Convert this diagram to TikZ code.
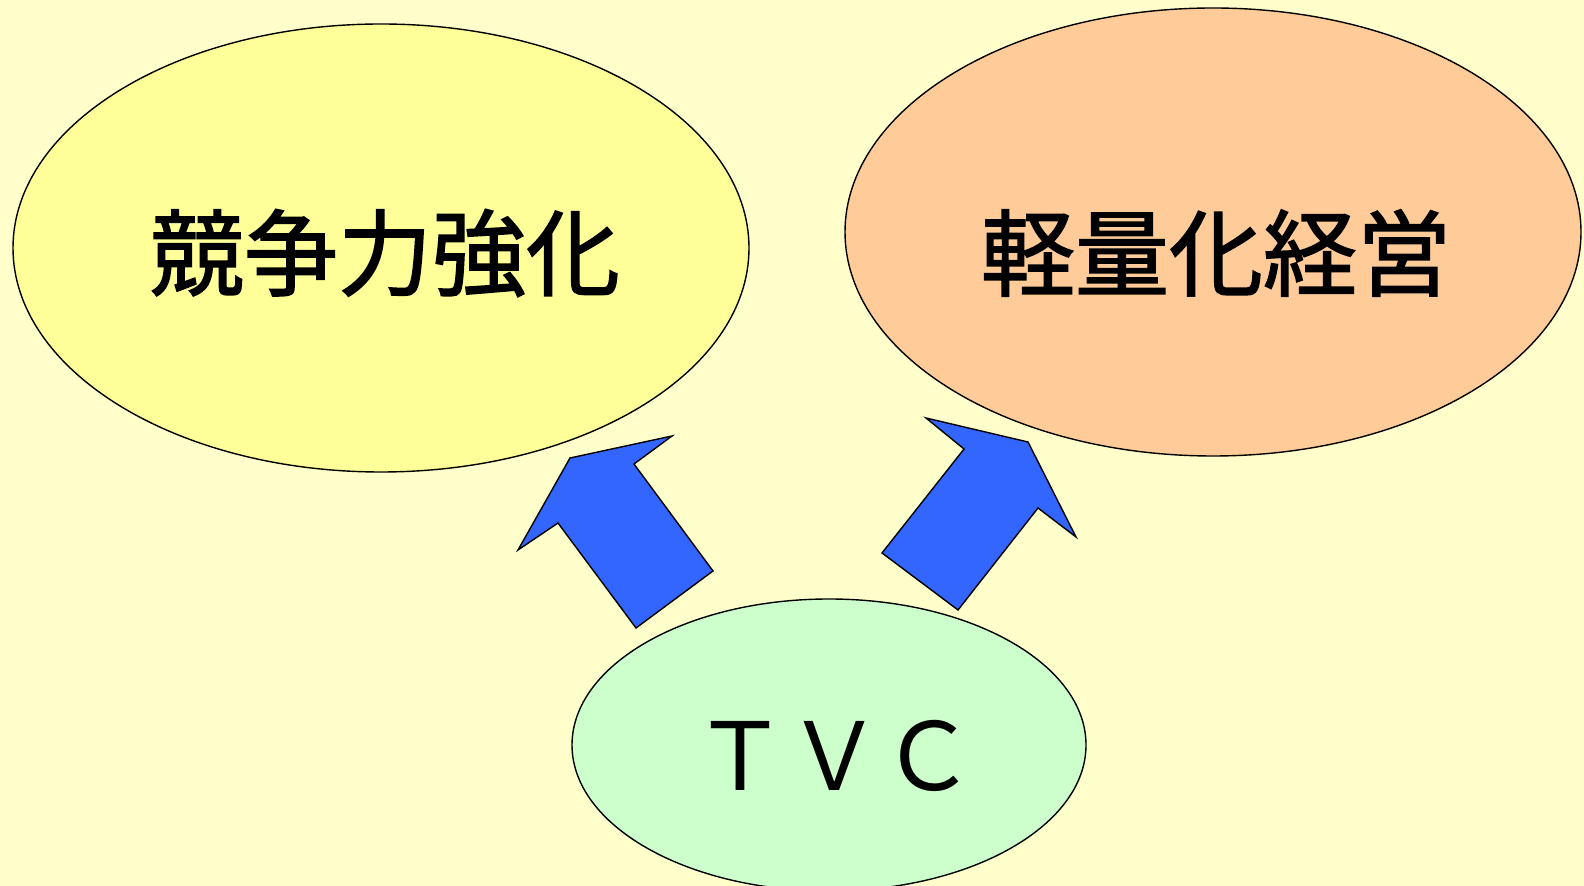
\documentclass[tikz,border=0pt]{standalone}
\usepackage{fontspec}
\usetikzlibrary{shapes.geometric}
\newfontfamily\cjk{Noto Sans CJK JP}
\newfontfamily\cjkb[FakeBold=1.6]{Noto Sans CJK JP}
\definecolor{bg}{HTML}{FFFFCC}
\definecolor{ylw}{HTML}{FFFF99}
\definecolor{org}{HTML}{FFCC99}
\definecolor{grn}{HTML}{CCFFCC}
\definecolor{blu}{HTML}{3366FF}
\begin{document}
\begin{tikzpicture}[x=0.5pt,y=-0.5pt,
  bubble/.style={ellipse,draw=black,line width=0.7pt,inner sep=0pt},
  bubbletext/.style={font=\cjkb\fontsize{47}{47}\selectfont},
  bigarrow/.style={draw=black,fill=blu,line width=0.7pt,line join=miter}]
\fill[bg] (0,0) rectangle (1584,886);
\useasboundingbox (0,0) rectangle (1584,886);
\node[bubble,fill=ylw,minimum width=368pt,minimum height=224pt] (kyoso) at (381,248) {};
\node[bubbletext] (kyosoT) at (385,253) {競争力強化};
\node[bubble,fill=org,minimum width=368pt,minimum height=224pt] (keiryo) at (1213,232) {};
\node[bubbletext] (keiryoT) at (1216,253) {軽量化経営};
\node[bubble,fill=grn,minimum width=257pt,minimum height=146pt] (tvc) at (829,745) {};
\node[font=\cjk\fontsize{47}{47}\selectfont] (tvcT) at (834,756) {ＴＶＣ};
\draw[bigarrow] (570,458) -- (672,436) -- (634,464) -- (713,571) -- (636,628) -- (558,523) -- (518,550) -- cycle;
\draw[bigarrow] (926,418) -- (1028,442) -- (1076,537) -- (1038,508) -- (958,610) -- (882,553) -- (964,449) -- cycle;
\end{tikzpicture}
\end{document}
